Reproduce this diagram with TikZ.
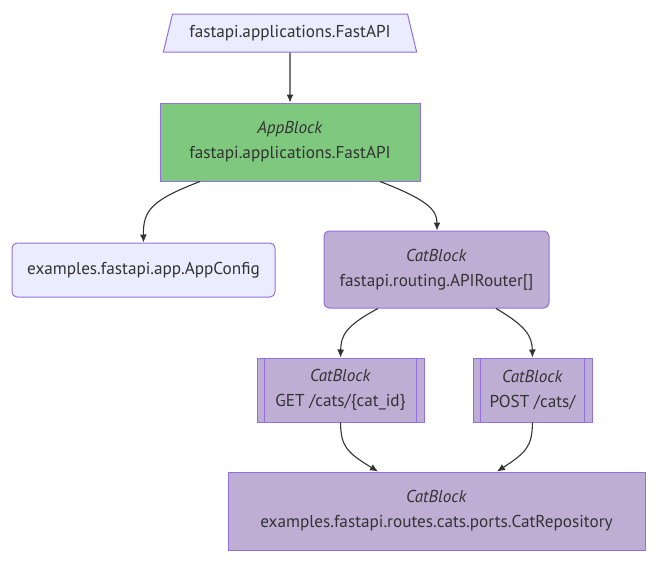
\documentclass[tikz,border=0pt]{standalone}
\usepackage{fontspec}
\setmainfont{PT Sans}
\usetikzlibrary{shapes.geometric,arrows.meta}

\definecolor{mmdline}{HTML}{9370DB}
\definecolor{mmdfront}{HTML}{ECECFF}
\definecolor{mmdapp}{HTML}{7FC97F}
\definecolor{mmdcat}{HTML}{BEAED4}
\definecolor{mmdtext}{HTML}{333333}

% side bars of a subroutine box
\newcommand{\subbars}[1]{%
    \draw[mmdline, line width=1pt] ([xshift=8pt]#1.north west) -- ([xshift=8pt]#1.south west);
    \draw[mmdline, line width=1pt] ([xshift=-8pt]#1.north east) -- ([xshift=-8pt]#1.south east);
}

\begin{document}
\begin{tikzpicture}[x=1pt, y=-1pt,
    box/.style={draw=mmdline, line width=1pt, text=mmdtext, align=center,
        inner sep=0pt, font=\fontsize{17.2}{25}\selectfont},
    appbox/.style={box, fill=mmdapp},
    catbox/.style={box, fill=mmdcat},
    link/.style={draw=mmdtext, line width=1.1pt, ->},
    >={Latex[length=8pt,width=7pt]}]
    \useasboundingbox (0,0) rectangle (665,571);

    % Nodes
    \node[box, fill=mmdfront, trapezium, trapezium stretches=true,
        trapezium left angle=63.4, trapezium right angle=63.4,
        minimum width=254pt, minimum height=38pt] (src) at (290,33) {fastapi.applications.FastAPI};
    \node[appbox, minimum width=260pt, minimum height=78pt] (app) at (290,142)
        {\textit{AppBlock}\\fastapi.applications.FastAPI};
    \node[box, fill=mmdfront, rounded corners=5pt, minimum width=263pt, minimum height=54pt] (cfg) at (143.5,270)
        {examples.fastapi.app.AppConfig};
    \node[catbox, rounded corners=5pt, minimum width=225pt, minimum height=77pt] (router) at (436.5,269.5)
        {\textit{CatBlock}\\fastapi.routing.APIRouter[]};
    \node[catbox, minimum width=167pt, minimum height=64pt] (get) at (340.5,390)
        {\textit{CatBlock}\\GET /cats/\{cat\_id\}};
    \node[catbox, minimum width=119pt, minimum height=64pt] (post) at (532.5,390)
        {\textit{CatBlock}\\POST /cats/};
    \node[catbox, minimum width=417pt, minimum height=78pt] (repo) at (436.5,511)
        {\textit{CatBlock}\\examples.fastapi.routes.cats.ports.CatRepository};
    \subbars{get}
    \subbars{post}

    % Connectors
    \draw[link] (src) -- (app);
    \draw[link] ([xshift=-90pt]app.south) .. controls (152,200) and (143,210) .. (cfg.north);
    \draw[link] ([xshift=90pt]app.south) .. controls (428,200) and (437,210) .. ([xshift=0.5pt]router.north);
    \draw[link] ([xshift=-58.5pt]router.south) .. controls (345,326) and (341,336) .. (get.north);
    \draw[link] ([xshift=59.5pt]router.south) .. controls (526,326) and (532,336) .. (post.north);
    \draw[link] (get.south) .. controls (341,446) and (346,452) .. ([xshift=-58.5pt]repo.north);
    \draw[link] (post.south) .. controls (532,446) and (527,452) .. ([xshift=60.5pt]repo.north);
\end{tikzpicture}
\end{document}
